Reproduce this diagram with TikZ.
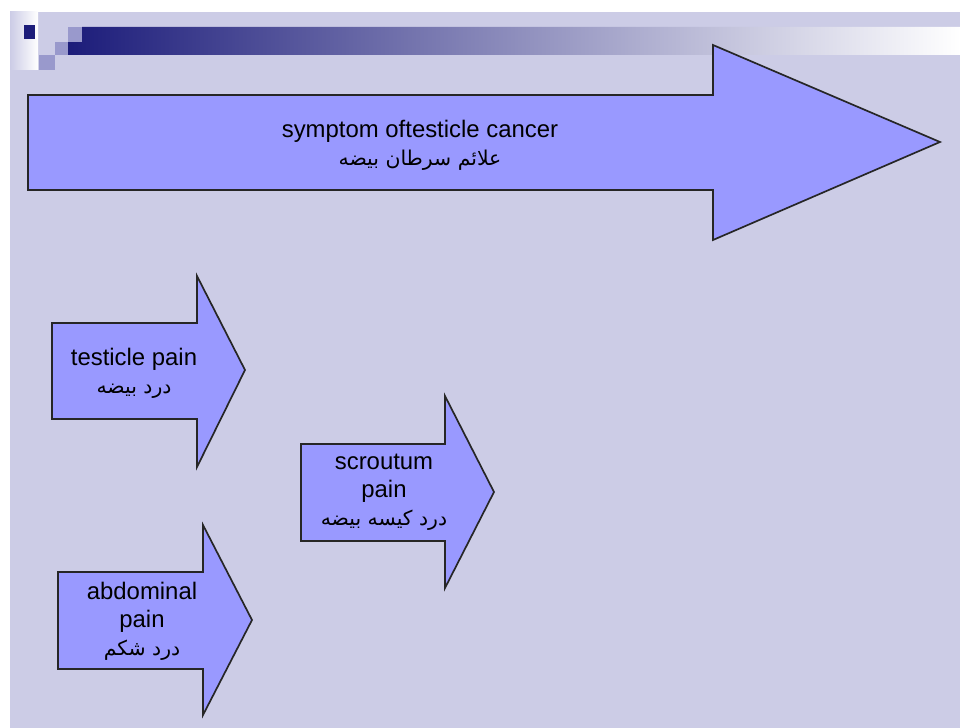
\documentclass[tikz,border=0pt]{standalone}
\usepackage{fontspec}
\setmainfont{Liberation Sans}
\newfontfamily\arabicfont[Script=Arabic]{DejaVu Sans}
\TeXXeTstate=1
\usepackage{tikz}
\usepackage{xcolor}
\usetikzlibrary{calc}

\definecolor{slidebg}{RGB}{204,204,230}
\definecolor{arrowblue}{RGB}{153,153,255}
\definecolor{headnavy}{RGB}{28,28,122}
\definecolor{headgrey}{RGB}{180,180,198}
\definecolor{squarelilac}{RGB}{153,153,204}

\tikzset{
	blockarrow/.style={draw=black!85, fill=arrowblue, line width=1.2pt, line join=miter},
	armtext/.style={align=center, inner sep=0pt, font=\fontsize{17}{20}\selectfont}
}
\newcommand{\fa}[1]{{\arabicfont\fontsize{14.5}{17}\selectfont\beginR #1\endR}}

\begin{document}
\begin{tikzpicture}[x=0.025cm, y=-0.025cm]
			\useasboundingbox (0,0) rectangle (960,728);
			\fill[white] (0,0) rectangle (960,728);
			\fill[slidebg] (10,12) rectangle (960,728);

			% title bar
			\shade[left color=slidebg, right color=white] (10,12) rectangle (38,70);
			\shade[left color=headnavy, middle color=headgrey, right color=white]
				(82,27) -- (960,27) -- (960,55) -- (68,55) -- (68,42) -- (82,42) -- cycle;
			\fill[headnavy] (24,25) rectangle (35,39);
				\fill[squarelilac] (68,27) rectangle (82,42);
				\fill[squarelilac] (55,42) rectangle (68,55);
				\fill[squarelilac] (39,55) rectangle (55,70);

			% main arrow
			\draw[blockarrow] (28,95) -- (713,95) -- (713,45) -- (940,142)
				-- (713,240) -- (713,190) -- (28,190) -- cycle;
					\node[armtext] (symptom) at(420,145){symptom oftesticle cancer\\ \fa{علائم سرطان بیضه}};

			% small arrows
			\draw[blockarrow] (52,323) -- (197,323) -- (197,276) -- (245,370)
				-- (197,467) -- (197,419) -- (52,419) -- cycle;
					\node[armtext] (testicle) at(134,373){testicle pain\\ \fa{درد بیضه}};

			\draw[blockarrow] (301,444) -- (445,444) -- (445,396) -- (494,492)
				-- (445,588) -- (445,541) -- (301,541) -- cycle;
					\node[armtext] (scroutum) at(384,492){scroutum\\ pain\\ \fa{درد کیسه بیضه}};

			\draw[blockarrow] (58,572) -- (203,572) -- (203,525) -- (252,620)
				-- (203,715) -- (203,669) -- (58,669) -- cycle;
					\node[armtext] (abdominal) at(142,621){abdominal\\ pain\\ \fa{درد شکم}};
		\end{tikzpicture}
\end{document}
